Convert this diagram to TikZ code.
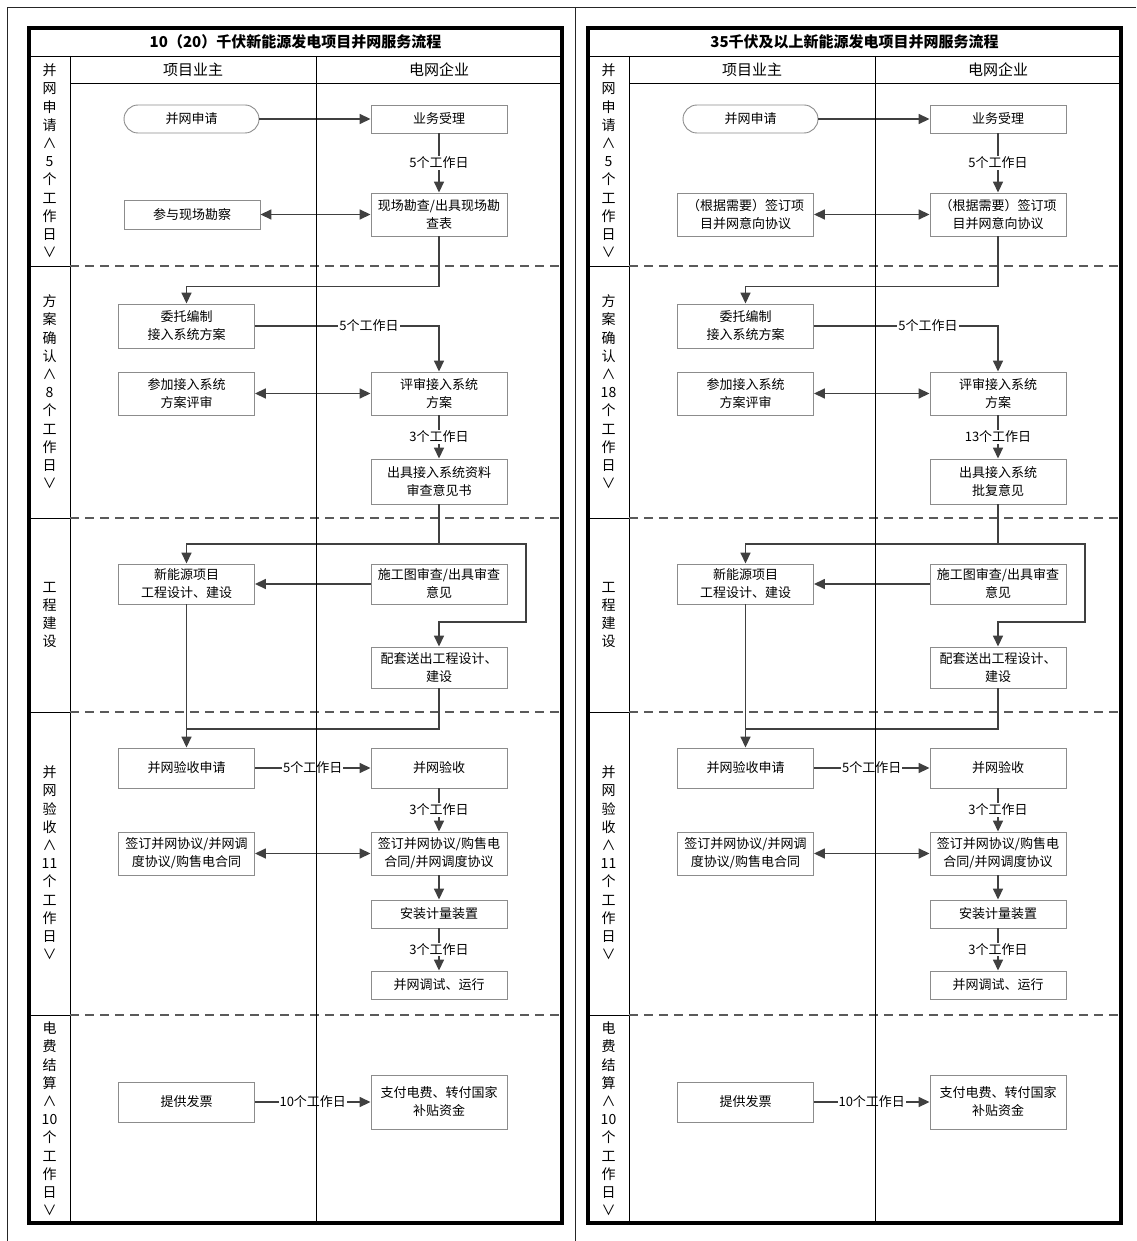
\documentclass[tikz,border=0pt]{standalone}
\usepackage{fontspec}
\setmainfont{Noto Sans CJK SC}
\usetikzlibrary{arrows.meta, calc}
\definecolor{linegray}{HTML}{404040}
\definecolor{boxgray}{HTML}{8C8C8C}
\definecolor{sepgray}{HTML}{5A5A5A}

\begin{document}
\begin{tikzpicture}[x=1pt, y=-1pt,
  frame/.style={draw=black, line width=3.2pt},
  lane/.style={draw=black, line width=0.9pt},
  pageline/.style={draw=black!85, line width=1pt},
  sep/.style={draw=sepgray, line width=1.2pt, dash pattern=on 9pt off 6pt},
  stepbox/.style={draw=boxgray, fill=white, line width=0.9pt,
    minimum width=136pt, minimum height=28pt, inner sep=2pt,
    align=center, font=\fontsize{13}{18}\selectfont},
  startbox/.style={stepbox, rounded corners=14pt},
  phase/.style={align=center, inner sep=0pt, font=\fontsize{14}{18.2}\selectfont},
  head/.style={font=\fontsize{15}{18}\selectfont},
  ttl/.style={font=\fontsize{15}{18}\selectfont\bfseries},
  days/.style={fill=white, inner sep=1pt, font=\fontsize{13}{16}\selectfont},
  arr/.style={-{Triangle[length=11pt, width=10pt]}, draw=linegray, line width=1.6pt},
  darr/.style={{Triangle[length=11pt, width=10pt]}-{Triangle[length=11pt, width=10pt]},
    draw=linegray, line width=1.6pt},
  link/.style={draw=linegray, line width=1.6pt},
]
\useasboundingbox (0,0) rectangle (1136,1241);
% page lines
\draw[pageline] (7,1241) -- (7,8) -- (1136,8);
\draw[pageline] (575,8) -- (575,1241);
% swimlane frames
\foreach \dx in {0,559} {
  \draw[frame] (29+\dx,28) rectangle (562+\dx,1223);
  \draw[lane] (29+\dx,56) -- (562+\dx,56);
  \draw[lane] (70+\dx,83) -- (562+\dx,83);
  \draw[lane] (70+\dx,56) -- (70+\dx,1223);
  \foreach \y in {266,518,712,1015} {
    \draw[lane] (29+\dx,\y) -- (70+\dx,\y);
    \draw[sep] (70+\dx,\y) -- (562+\dx,\y);
  }
}

%%%%%%%%%% left: 10(20) kV
\node[ttl] (a-title) at (295.5,42) {10（20）千伏新能源发电项目并网服务流程};
\node[head] (a-owner) at (193,70) {项目业主};
\node[head] (a-grid) at (439,70) {电网企业};
\node[phase] (a-ph1) at (49.5,161) {并\\网\\申\\请\\∧\\5\\个\\工\\作\\日\\∨};
\node[phase] (a-ph2) at (49.5,392) {方\\案\\确\\认\\∧\\8\\个\\工\\作\\日\\∨};
\node[phase] (a-ph3) at (49.5,615) {工\\程\\建\\设};
\node[phase] (a-ph4) at (49.5,863) {并\\网\\验\\收\\∧\\11\\个\\工\\作\\日\\∨};
\node[phase] (a-ph5) at (49.5,1119) {电\\费\\结\\算\\∧\\10\\个\\工\\作\\日\\∨};
% application
\node[startbox, minimum width=135pt] (a-apply) at (191.5,119) {并网申请};
\node[stepbox] (a-accept) at (439,119) {业务受理};
\node[stepbox, minimum height=43pt] (a-survey) at (439,214.5) {现场勘查/出具现场勘\\查表};
\node[stepbox, minimum height=29pt] (a-join) at (192,214.5) {参与现场勘察};
\draw[arr] (a-apply) -- (a-accept);
\draw[arr] (a-accept) -- node[days] {5个工作日} (a-survey);
\draw[darr] (a-join) -- (a-survey);
% scheme
\node[stepbox, minimum height=44pt] (a-entrust) at (186.5,326) {委托编制\\接入系统方案};
\node[stepbox, minimum height=43pt] (a-reviewin) at (186.5,393.5) {参加接入系统\\方案评审};
\node[stepbox, minimum height=43pt] (a-review) at (439,393.5) {评审接入系统\\方案};
\node[stepbox, minimum height=45pt] (a-opinion) at (439,481.5) {出具接入系统资料\\审查意见书};
\draw[arr] (a-survey.south) -- ++(0,50) -| (a-entrust.north);
\draw[arr] (a-entrust.east) -| node[days, pos=0.31] {5个工作日} (a-review.north);
\draw[darr] (a-reviewin) -- (a-review);
\draw[arr] (a-review) -- node[days] {3个工作日} (a-opinion);
% construction
\node[stepbox, minimum height=40pt] (a-newproj) at (186.5,584) {新能源项目\\工程设计、建设};
\node[stepbox, minimum height=40pt] (a-drawing) at (439,584) {施工图审查/出具审查\\意见};
\node[stepbox, minimum height=41pt] (a-match) at (439,667.5) {配套送出工程设计、\\建设};
\coordinate (a-split) at (439,544);
\coordinate (a-bend) at (526,622);
\draw[link] (a-opinion.south) -- (a-split);
\draw[arr] (a-split) -| (a-newproj.north);
\draw[arr] (a-split) -| (a-bend) -| (a-match.north);
\draw[arr] (a-drawing) -- (a-newproj);
% acceptance
\node[stepbox, minimum height=40pt] (a-acceptapp) at (186.5,768) {并网验收申请};
\node[stepbox, minimum height=40pt] (a-gridacc) at (439,768) {并网验收};
\node[stepbox, minimum height=43pt] (a-signin) at (186.5,853.5) {签订并网协议/并网调\\度协议/购售电合同};
\node[stepbox, minimum height=43pt] (a-sign) at (439,853.5) {签订并网协议/购售电\\合同/并网调度协议};
\node[stepbox] (a-meter) at (439,914) {安装计量装置};
\node[stepbox] (a-run) at (439,985) {并网调试、运行};
\coordinate (a-merge) at (186.5,729);
\draw[arr] (a-newproj) -- (a-acceptapp);
\draw[link] (a-match.south) |- (a-merge);
\draw[arr] (a-acceptapp) -- node[days] {5个工作日} (a-gridacc);
\draw[arr] (a-gridacc) -- node[days] {3个工作日} (a-sign);
\draw[darr] (a-signin) -- (a-sign);
\draw[arr] (a-sign) -- (a-meter);
\draw[arr] (a-meter) -- node[days] {3个工作日} (a-run);
% settlement
\node[stepbox, minimum height=40pt] (a-invoice) at (186.5,1102) {提供发票};
\node[stepbox, minimum height=54pt] (a-pay) at (439,1102) {支付电费、转付国家\\补贴资金};
\draw[arr] (a-invoice) -- node[days] {10个工作日} (a-pay);

%%%%%%%%%% right: 35 kV and above
\node[ttl] (b-title) at (854.5,42) {35千伏及以上新能源发电项目并网服务流程};
\node[head] (b-owner) at (752,70) {项目业主};
\node[head] (b-grid) at (998,70) {电网企业};
\node[phase] (b-ph1) at (608.5,161) {并\\网\\申\\请\\∧\\5\\个\\工\\作\\日\\∨};
\node[phase] (b-ph2) at (608.5,392) {方\\案\\确\\认\\∧\\18\\个\\工\\作\\日\\∨};
\node[phase] (b-ph3) at (608.5,615) {工\\程\\建\\设};
\node[phase] (b-ph4) at (608.5,863) {并\\网\\验\\收\\∧\\11\\个\\工\\作\\日\\∨};
\node[phase] (b-ph5) at (608.5,1119) {电\\费\\结\\算\\∧\\10\\个\\工\\作\\日\\∨};
% application
\node[startbox, minimum width=135pt] (b-apply) at (750.5,119) {并网申请};
\node[stepbox] (b-accept) at (998,119) {业务受理};
\node[stepbox, minimum height=43pt] (b-survey) at (998,214.5) {（根据需要）签订项\\目并网意向协议};
\node[stepbox, minimum height=43pt] (b-join) at (745.5,214.5) {（根据需要）签订项\\目并网意向协议};
\draw[arr] (b-apply) -- (b-accept);
\draw[arr] (b-accept) -- node[days] {5个工作日} (b-survey);
\draw[darr] (b-join) -- (b-survey);
% scheme
\node[stepbox, minimum height=44pt] (b-entrust) at (745.5,326) {委托编制\\接入系统方案};
\node[stepbox, minimum height=43pt] (b-reviewin) at (745.5,393.5) {参加接入系统\\方案评审};
\node[stepbox, minimum height=43pt] (b-review) at (998,393.5) {评审接入系统\\方案};
\node[stepbox, minimum height=45pt] (b-opinion) at (998,481.5) {出具接入系统\\批复意见};
\draw[arr] (b-survey.south) -- ++(0,50) -| (b-entrust.north);
\draw[arr] (b-entrust.east) -| node[days, pos=0.31] {5个工作日} (b-review.north);
\draw[darr] (b-reviewin) -- (b-review);
\draw[arr] (b-review) -- node[days] {13个工作日} (b-opinion);
% construction
\node[stepbox, minimum height=40pt] (b-newproj) at (745.5,584) {新能源项目\\工程设计、建设};
\node[stepbox, minimum height=40pt] (b-drawing) at (998,584) {施工图审查/出具审查\\意见};
\node[stepbox, minimum height=41pt] (b-match) at (998,667.5) {配套送出工程设计、\\建设};
\coordinate (b-split) at (998,544);
\coordinate (b-bend) at (1085,622);
\draw[link] (b-opinion.south) -- (b-split);
\draw[arr] (b-split) -| (b-newproj.north);
\draw[arr] (b-split) -| (b-bend) -| (b-match.north);
\draw[arr] (b-drawing) -- (b-newproj);
% acceptance
\node[stepbox, minimum height=40pt] (b-acceptapp) at (745.5,768) {并网验收申请};
\node[stepbox, minimum height=40pt] (b-gridacc) at (998,768) {并网验收};
\node[stepbox, minimum height=43pt] (b-signin) at (745.5,853.5) {签订并网协议/并网调\\度协议/购售电合同};
\node[stepbox, minimum height=43pt] (b-sign) at (998,853.5) {签订并网协议/购售电\\合同/并网调度协议};
\node[stepbox] (b-meter) at (998,914) {安装计量装置};
\node[stepbox] (b-run) at (998,985) {并网调试、运行};
\coordinate (b-merge) at (745.5,729);
\draw[arr] (b-newproj) -- (b-acceptapp);
\draw[link] (b-match.south) |- (b-merge);
\draw[arr] (b-acceptapp) -- node[days] {5个工作日} (b-gridacc);
\draw[arr] (b-gridacc) -- node[days] {3个工作日} (b-sign);
\draw[darr] (b-signin) -- (b-sign);
\draw[arr] (b-sign) -- (b-meter);
\draw[arr] (b-meter) -- node[days] {3个工作日} (b-run);
% settlement
\node[stepbox, minimum height=40pt] (b-invoice) at (745.5,1102) {提供发票};
\node[stepbox, minimum height=54pt] (b-pay) at (998,1102) {支付电费、转付国家\\补贴资金};
\draw[arr] (b-invoice) -- node[days] {10个工作日} (b-pay);

% lane dividers on top
\foreach \dx in {0,559}
  \draw[lane] (316+\dx,56) -- (316+\dx,1223);
\end{tikzpicture}
\end{document}
